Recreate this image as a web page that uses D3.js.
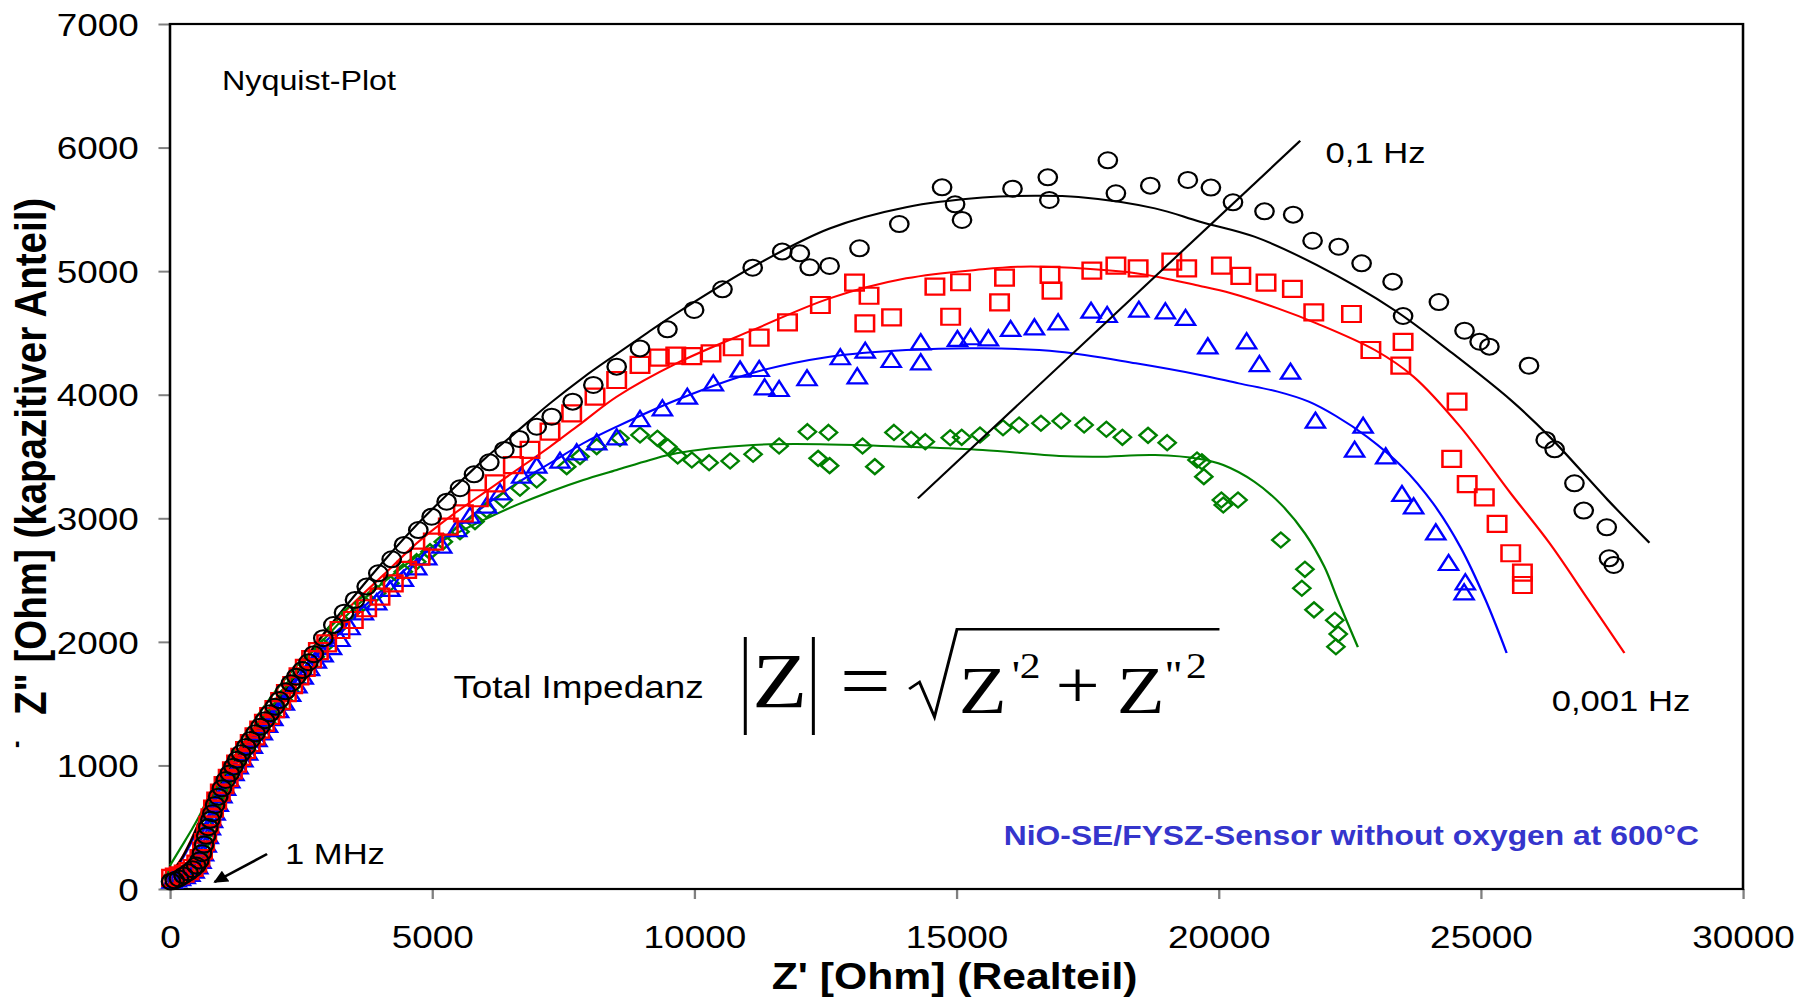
<!DOCTYPE html>
<html>
<head>
<meta charset="utf-8">
<script src="https://cdn.jsdelivr.net/npm/d3@7/dist/d3.min.js"></script>
<style>
  html, body { margin: 0; padding: 0; background: #ffffff; }
  svg { display: block; }
</style>
</head>
<body>
<svg id="chart" width="1809" height="997"></svg>
<script>
// Axis ticks
const xTicks = [0, 5000, 10000, 15000, 20000, 25000, 30000];
const yTicks = [0, 1000, 2000, 3000, 4000, 5000, 6000, 7000];

// Measured impedance spectra, [Z' (Ohm), -Z'' (Ohm)], from 1 MHz down to 0.001 Hz
const circlePoints = [
  [20,60],[90,70],[170,85],[260,110],[350,135],[430,160],[500,190],[560,230],[610,290],[650,360],
  [690,430],[730,500],[770,560],[809,613],[860,680],[918,747],[990,815],[1064,882],[1140,935],[1210,990],
  [1280,1045],[1356,1098],[1450,1150],[1539,1206],[1630,1260],[1721,1313],[1810,1366],[1903,1422],[2000,1475],[2086,1529],
  [2200,1600],[2306,1665],[2410,1718],[2524,1772],[2640,1835],[2743,1900],[2924,2030],[3115,2136],[3319,2236],[3528,2339],
  [3751,2447],[3973,2555],[4228,2668],[4463,2784],[4736,2905],[4990,3013],[5276,3134],[5531,3243],[5798,3356],[6090,3453],
  [6376,3553],[6662,3642],[6994,3741],[7280,3822],[7680,3944],[8074,4079],[8519,4227],[8964,4375],[9487,4529],[9996,4686],
  [10537,4853],[11113,5028],[11676,5158],[12011,5144],[12200,5031],[12580,5042],[13150,5185],[13909,5381],[14725,5678],[14973,5541],
  [15105,5414],[16068,5667],[16741,5759],[16770,5576],[17886,5897],[18040,5630],[18696,5692],[19412,5738],[19852,5676],[20273,5557],
  [20874,5484],[21421,5457],[21791,5246],[22289,5198],[22726,5063],[23317,4915],[23517,4637],[24200,4750],[24689,4518],[24977,4429],
  [25163,4389],[25919,4235],[26237,3634],[26407,3558],[26785,3283],[26962,3062],[27401,2927],[27445,2676],[27535,2622]
];
const squarePoints = [
  [30,90],[100,100],[180,110],[270,125],[360,145],[440,170],[510,205],[570,250],[620,310],[660,380],
  [700,450],[740,520],[780,580],[830,650],[890,715],[960,780],[1030,840],[1110,900],[1190,960],[1270,1015],
  [1350,1070],[1440,1125],[1530,1180],[1620,1235],[1710,1290],[1800,1345],[1900,1400],[2000,1455],[2110,1520],[2220,1585],
  [2340,1650],[2460,1720],[2580,1790],[2700,1860],[2830,1925],[2988,1988],[3242,2096],[3496,2177],[3751,2272],[4005,2366],
  [4259,2474],[4514,2582],[4768,2689],[5022,2811],[5308,2932],[5595,3040],[5881,3162],[6198,3283],[6548,3431],[6866,3553],
  [7247,3701],[7661,3849],[8106,3984],[8519,4119],[8964,4241],[9332,4300],[9646,4316],[9952,4313],[10318,4335],[10741,4384],
  [11237,4462],[11777,4586],[12404,4726],[13055,4907],[13252,4578],[13332,4801],[13762,4626],[14588,4874],[14888,4631],[15077,4910],
  [15821,4748],[15916,4947],[16783,4969],[16821,4842],[17581,5004],[18040,5044],[18464,5023],[19106,5077],[19390,5023],[20052,5044],
  [20422,4961],[20903,4907],[21406,4856],[21814,4667],[22533,4653],[22903,4362],[23517,4427],[23473,4235],[24547,3944],[24444,3480],
  [24740,3277],[25066,3170],[25310,2954],[25570,2717],[25793,2560],[25793,2460]
];
const trianglePoints = [
  [40,60],[120,70],[200,80],[290,95],[380,115],[460,140],[530,175],[590,220],[640,280],[690,350],
  [730,420],[770,490],[810,550],[860,610],[920,680],[990,750],[1060,810],[1140,870],[1220,930],[1300,985],
  [1390,1040],[1480,1095],[1570,1150],[1660,1205],[1760,1260],[1860,1320],[1960,1375],[2070,1440],[2180,1500],[2300,1570],
  [2420,1640],[2540,1710],[2660,1780],[2790,1840],[2920,1890],[3080,1950],[3242,2015],[3433,2110],[3687,2231],[3941,2312],
  [4196,2420],[4450,2501],[4705,2595],[4896,2676],[5182,2770],[5468,2905],[5722,3013],[6040,3094],[6294,3202],[6707,3337],
  [6994,3418],[7438,3458],[7756,3526],[8138,3607],[8519,3647],[8964,3795],[9391,3882],[9866,3976],[10362,4084],[10873,4195],
  [11237,4200],[11340,4052],[11617,4038],[12149,4125],[12784,4295],[13107,4141],[13259,4348],[13755,4273],[14318,4416],[14318,4254],
  [15018,4443],[15267,4457],[15609,4448],[16032,4524],[16486,4537],[16938,4578],[17566,4672],[17873,4637],[18478,4680],[18983,4667],
  [19368,4613],[19793,4383],[20533,4424],[20777,4240],[21370,4178],[21845,3782],[22755,3741],[22593,3547],[23186,3493],[23496,3189],
  [23718,3089],[24141,2878],[24385,2630],[24704,2474],[24681,2393]
];
const diamondPoints = [
  [30,100],[100,110],[180,120],[270,135],[360,155],[440,180],[510,215],[570,260],[620,320],[660,390],
  [700,460],[740,530],[790,590],[840,650],[900,715],[970,780],[1040,840],[1120,900],[1200,960],[1280,1015],
  [1370,1070],[1460,1125],[1550,1180],[1640,1235],[1740,1290],[1840,1350],[1940,1405],[2050,1465],[2160,1530],[2280,1600],
  [2400,1670],[2520,1740],[2640,1810],[2770,1880],[2924,1960],[3179,2110],[3433,2231],[3687,2312],[3941,2393],[4196,2474],
  [4450,2568],[4705,2649],[4959,2730],[5213,2811],[5531,2892],[5817,2973],[6040,3067],[6357,3148],[6675,3243],[6994,3310],
  [7566,3418],[7820,3499],[8138,3580],[8583,3647],[8964,3674],[9296,3647],[9493,3579],[9683,3504],[9952,3472],[10282,3450],
  [10683,3464],[11121,3518],[11617,3585],[12157,3701],[12361,3485],[12559,3695],[12580,3426],[13208,3585],[13442,3418],[13807,3695],
  [14135,3639],[14405,3620],[14880,3652],[15099,3655],[15448,3674],[15887,3733],[16194,3755],[16610,3769],[16997,3787],[17434,3755],
  [17858,3720],[18164,3655],[18653,3671],[19018,3612],[19587,3472],[19680,3458],[19717,3337],[20052,3148],[20088,3108],[20369,3148],
  [21185,2824],[21645,2587],[21586,2434],[21818,2259],[22214,2175],[22280,2063],[22236,1960]
];

// Equivalent-circuit fits
const circleFit = [
  [0,120],[200,230],[400,390],[600,580],[800,740],[1000,880],[1200,1010],[1400,1140],[1700,1310],[2000,1480],
  [2400,1730],[2798,1990],[3433,2330],[4069,2649],[4705,2946],[5340,3215],[5976,3472],[6612,3701],[7247,3930],[7883,4140],
  [8519,4330],[9100,4500],[9660,4659],[11120,5036],[12580,5345],[14040,5517],[15500,5595],[16500,5610],[17325,5600],[18784,5508],
  [19645,5400],[20681,5279],[21866,5050],[23348,4686],[24460,4335],[25570,3957],[26312,3660],[27422,3148],[28215,2802]
];
const squareFit = [
  [0,125],[200,235],[400,395],[600,585],[800,745],[1000,885],[1200,1015],[1400,1150],[1700,1320],[2000,1490],
  [2400,1740],[2798,1990],[3433,2285],[4069,2541],[4705,2798],[5340,3013],[5976,3202],[6612,3391],[7247,3579],[7883,3782],
  [8519,3984],[9660,4254],[11121,4524],[12580,4780],[14041,4942],[15500,5015],[16230,5036],[16959,5031],[18420,4983],[19645,4880],
  [20237,4821],[21126,4699],[21866,4578],[22978,4362],[23718,4146],[24607,3741],[25570,3202],[26312,2798],[27052,2339],[27738,1910]
];
const triangleFit = [
  [0,115],[200,220],[400,370],[600,550],[800,700],[1000,840],[1200,970],[1400,1100],[1700,1270],[2000,1440],
  [2400,1680],[2798,1930],[3433,2180],[4069,2430],[4705,2662],[5340,2878],[5976,3094],[6612,3283],[7247,3445],[7883,3607],
  [8519,3741],[9660,3957],[11121,4178],[12580,4308],[14041,4362],[15500,4376],[16959,4348],[18420,4254],[19645,4160],[20384,4092],
  [21126,4025],[21719,3944],[22236,3828],[22829,3660],[23496,3418],[24088,3121],[24607,2770],[25090,2339],[25492,1910]
];
const diamondFit = [
  [0,190],[200,330],[400,470],[553,585],[750,760],[950,930],[1200,1110],[1500,1300],[1800,1480],[2100,1650],
  [2450,1820],[2798,1960],[3433,2240],[4069,2480],[4705,2690],[5340,2851],[5976,2986],[6612,3108],[7247,3215],[7883,3310],
  [8519,3391],[9155,3472],[9660,3526],[11121,3593],[12580,3598],[14041,3579],[15500,3553],[16959,3504],[17689,3498],[18784,3512],
  [19645,3480],[20088,3431],[20681,3296],[21200,3108],[21645,2878],[22015,2608],[22274,2339],[22655,1957]
];

// Line marking the 0.1 Hz points across the four spectra
const isoFrequencyLine = [[14263,3161],[21555,6055]];

// ---------------------------------------------------------------------------
const svg = d3.select("#chart");
const baseWidth = 1568;
const stretchX = 1809 / baseWidth;
const root = svg.append("g").attr("transform", `scale(${stretchX},1)`);

const sans = "'Liberation Sans', Arial, Helvetica, sans-serif";
const serif = "'Liberation Serif', 'Times New Roman', Times, serif";

const x = d3.scaleLinear().domain([0, 30000]).range([147.35, 1510.8]);
const y = d3.scaleLinear().domain([0, 7000]).range([889, 24]);

// Axes with outward grey ticks
const xAxis = root.append("g")
  .attr("transform", `translate(0,${y(0)})`)
  .call(d3.axisBottom(x).tickValues(xTicks).tickSize(10).tickSizeOuter(0).tickFormat(d3.format("d")));
xAxis.select(".domain").remove();
xAxis.selectAll(".tick line").attr("stroke", "#808080").attr("stroke-width", 2);
xAxis.selectAll(".tick text")
  .attr("y", 59).attr("dy", 0)
  .attr("font-family", sans).attr("font-size", 32).attr("fill", "#000");

const yAxis = root.append("g")
  .attr("transform", `translate(${x(0)},0)`)
  .call(d3.axisLeft(y).tickValues(yTicks).tickSize(10).tickSizeOuter(0).tickFormat(d3.format("d")));
yAxis.select(".domain").remove();
yAxis.selectAll(".tick line").attr("stroke", "#808080").attr("stroke-width", 2);
yAxis.selectAll(".tick text")
  .attr("x", -27).attr("dy", "0.35em")
  .attr("font-family", sans).attr("font-size", 32).attr("fill", "#000");

// Plot frame
root.append("rect")
  .attr("x", x(0)).attr("y", y(7000))
  .attr("width", x(30000) - x(0)).attr("height", y(0) - y(7000))
  .attr("fill", "none").attr("stroke", "#000").attr("stroke-width", 2.2);

// Axis titles
root.append("text")
  .attr("x", 827.5).attr("y", 989)
  .attr("text-anchor", "middle")
  .attr("font-family", sans).attr("font-size", 37).attr("font-weight", "bold")
  .text("Z' [Ohm] (Realteil)");

root.append("text")
  .attr("transform", "translate(40,715) rotate(-90)")
  .attr("text-anchor", "start")
  .attr("font-family", sans).attr("font-size", 38.5).attr("font-weight", "bold")
  .text("Z\" [Ohm] (kapazitiver Anteil)");
root.append("text")
  .attr("transform", "translate(20.5,748) rotate(-90)")
  .attr("text-anchor", "start")
  .attr("font-family", sans).attr("font-size", 22).attr("font-weight", "bold")
  .text("-");

// Series
const series = [
  { pts: diamondPoints,  fit: diamondFit,  color: "#008000", shape: "diamond" },
  { pts: trianglePoints, fit: triangleFit, color: "#0000ff", shape: "triangle" },
  { pts: squarePoints,   fit: squareFit,   color: "#ff0000", shape: "square" },
  { pts: circlePoints,   fit: circleFit,   color: "#000000", shape: "circle" }
];

const line = d3.line()
  .x(d => x(d[0])).y(d => y(d[1]))
  .curve(d3.curveCatmullRom.alpha(0.5));

const plot = root.append("g");

series.forEach(s => {
  plot.append("path")
    .attr("d", line(s.fit))
    .attr("fill", "none").attr("stroke", s.color).attr("stroke-width", 2);
});

const shapes = {
  diamond: "M0,-7.5L7.5,0L0,7.5L-7.5,0Z",
  triangle: "M0,-9L8.3,6L-8.3,6Z",
  square: "M-8,-8L8,-8L8,8L-8,8Z"
};

series.forEach(s => {
  const g = plot.append("g");
  if (s.shape === "circle") {
    g.selectAll("circle").data(s.pts).join("circle")
      .attr("cx", d => x(d[0])).attr("cy", d => y(d[1])).attr("r", 8)
      .attr("fill", "none").attr("stroke", s.color).attr("stroke-width", 2);
  } else {
    g.selectAll("path").data(s.pts).join("path")
      .attr("transform", d => `translate(${x(d[0])},${y(d[1])})`)
      .attr("d", shapes[s.shape])
      .attr("fill", "none").attr("stroke", s.color).attr("stroke-width", 2.2);
  }
});

plot.append("path")
  .attr("d", d3.line().x(d => x(d[0])).y(d => y(d[1]))(isoFrequencyLine))
  .attr("fill", "none").attr("stroke", "#000").attr("stroke-width", 2);

// Annotations
function label(txt, px, py, size, opts = {}) {
  return root.append("text")
    .attr("x", px).attr("y", py)
    .attr("font-family", opts.family || sans)
    .attr("font-size", size)
    .attr("font-weight", opts.weight || "normal")
    .attr("fill", opts.fill || "#000")
    .attr("text-anchor", opts.anchor || "start")
    .text(txt);
}

label("Nyquist-Plot", 192.4, 90, 28);
label("0,1 Hz", 1149, 163, 30);
label("0,001 Hz", 1345, 711, 30);
label("1 MHz", 247, 864, 30);
label("Total Impedanz", 393, 698, 32);
label("NiO-SE/FYSZ-Sensor without oxygen at 600°C", 870, 845, 27.6, { weight: "bold", fill: "#3535cc" });

// Arrow pointing to the 1 MHz end
const defs = svg.append("defs");
defs.append("marker")
  .attr("id", "arrowHead").attr("viewBox", "0 0 10 10")
  .attr("refX", 9).attr("refY", 5)
  .attr("markerWidth", 6).attr("markerHeight", 5)
  .attr("orient", "auto")
  .append("path").attr("d", "M0,0L10,5L0,10Z").attr("fill", "#000");
root.append("line")
  .attr("x1", 231.5).attr("y1", 854).attr("x2", 186).attr("y2", 882)
  .attr("stroke", "#000").attr("stroke-width", 2.5)
  .attr("marker-end", "url(#arrowHead)");

// Formula |Z| = sqrt(Z'^2 + Z''^2)
const eq = root.append("g").attr("fill", "#000").attr("stroke", "#000");
eq.append("line").attr("x1", 646).attr("y1", 637).attr("x2", 646).attr("y2", 735).attr("stroke-width", 2.6);
eq.append("line").attr("x1", 705).attr("y1", 637).attr("x2", 705).attr("y2", 735).attr("stroke-width", 2.6);
label("Z", 652, 707, 78, { family: serif });
label("=", 728, 707, 78, { family: serif });
eq.append("path")
  .attr("d", "M788,689L797,682L810,717L829.5,629.3L1057,629.3")
  .attr("fill", "none").attr("stroke-width", 2.6).attr("stroke-linejoin", "miter");
label("Z", 831, 713, 68, { family: serif });
label("'", 877, 688, 40, { family: serif });
label("2", 884, 678, 36, { family: serif });
label("+", 915, 708, 68, { family: serif });
label("Z", 968, 713, 68, { family: serif });
label("''", 1010, 688, 40, { family: serif });
label("2", 1028, 678, 36, { family: serif });
</script>
</body>
</html>
